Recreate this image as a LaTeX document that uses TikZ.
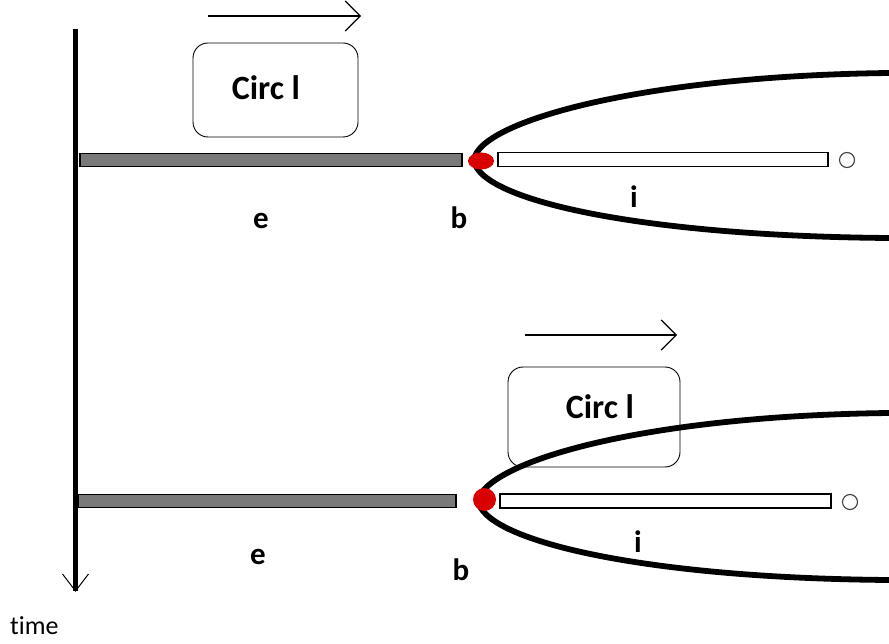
\documentclass[tikz,border=0pt]{standalone}
\usepackage{fontspec}
\setmainfont{Carlito}[Ligatures={NoCommon}]
\usetikzlibrary{arrows.meta,calc,shapes.geometric}
\begin{document}
\begin{tikzpicture}[x=1pt,y=-1pt,
  axisline/.style={line width=4.5pt},
  barb/.style={line width=1pt},
  motion/.style={line width=1.2pt,-{Straight Barb[length=15pt,width=30pt,line width=1.2pt]}},
  graybar/.style={draw=black,line width=1.6pt,fill=gray!95!black,rectangle,minimum height=13pt,inner sep=0pt},
  whitebar/.style={draw=black,line width=1.3pt,fill=white,rectangle,minimum height=14pt,inner sep=0pt},
  reddot/.style={fill=red!85!black,draw=none,ellipse,inner sep=0pt},
  endcirc/.style={draw=black!75,line width=1.1pt,circle,minimum size=15pt,inner sep=0pt},
  circbox/.style={draw=black,line width=0.9pt,rectangle,rounded corners=15pt,inner sep=0pt},
  bigtxt/.style={font=\fontsize{34}{36}\selectfont\bfseries,inner sep=0pt,anchor=base},
  lbl/.style={font=\fontsize{31}{33}\selectfont\bfseries,inner sep=0pt,anchor=base},
  front/.style={line width=5.8pt}
]
\useasboundingbox (0,0) rectangle (889,644);
\fill[white] (0,0) rectangle (889,644);

% time axis
\coordinate (ttop) at (75.5,29);
\coordinate (tbot) at (75.5,591);
\draw[axisline] (ttop) -- (tbot);
\draw[barb] ($(tbot)+(-13,-17)$) -- (tbot) -- ($(tbot)+(13,-17)$);
\node[font=\fontsize{26}{28}\selectfont,inner sep=0pt,anchor=base west] (time) at (10,634) {t\kern0pt ime};

% ===== top panel =====
\coordinate (a1s) at (208,16);
\coordinate (a1e) at (361,16);
\draw[motion] (a1s) -- (a1e);
\node[circbox,minimum width=165pt,minimum height=94pt] (box1) at (275.5,90) {};
\node[bigtxt] (txt1) at (266,100) {Circ l};

\node[graybar,minimum width=382pt] (g1) at (271,160) {};
\node[whitebar,minimum width=330pt] (w1) at (663,159.5) {};
\node[endcirc] (o1) at (847,160) {};

\coordinate (c1t) at (889,73);
\coordinate (c1v) at (474,160);
\coordinate (c1b) at (889,238);
\draw[front] (c1t) .. controls (640,76) and (478,122) .. (c1v)
             .. controls (478,200) and (640,236) .. (c1b);
\node[reddot,minimum width=26pt,minimum height=17pt] (r1) at (481,161) {};

\node[lbl] (e1) at (261,229) {e};
\node[lbl] (b1) at (459,229) {b};
\node[lbl] (i1) at (634,208) {i};

% ===== bottom panel =====
\coordinate (a2s) at (525,335);
\coordinate (a2e) at (677,335);
\draw[motion] (a2s) -- (a2e);
\node[circbox,minimum width=172pt,minimum height=100pt] (box2) at (594,417) {};
\node[bigtxt] (txt2) at (600,418) {Circ l};

\node[graybar,minimum width=378pt] (g2) at (267,501) {};
\node[whitebar,minimum width=331pt] (w2) at (665.5,501) {};
\node[endcirc] (o2) at (850,502) {};

\coordinate (c2t) at (889,413);
\coordinate (c2v) at (478,500);
\coordinate (c2b) at (889,580);
\draw[front] (c2t) .. controls (640,416) and (488,462) .. (c2v)
             .. controls (482,540) and (640,578) .. (c2b);
\node[reddot,minimum width=23pt,minimum height=23pt] (r2) at (484.5,499.5) {};

\node[lbl] (e2) at (258,564) {e};
\node[lbl] (b2) at (461,580) {b};
\node[lbl] (i2) at (638,552) {i};
\end{tikzpicture}
\end{document}
